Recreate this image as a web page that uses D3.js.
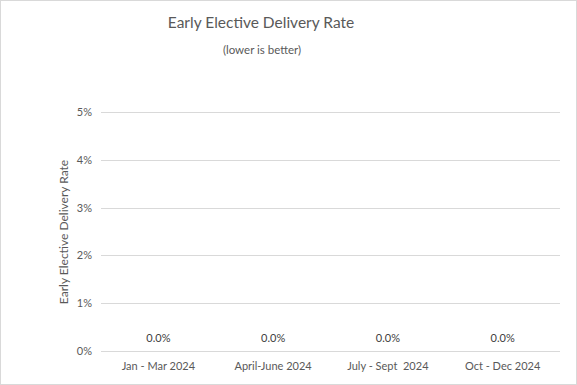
<!DOCTYPE html>
<html><head><meta charset="utf-8">
<script src="https://cdn.jsdelivr.net/npm/d3@7"></script>
<style>
html,body{margin:0;padding:0;background:#fff;}
svg{display:block;font-family:Lato,"Open Sans",sans-serif;}
</style></head>
<body>
<script>
const categories = ["Jan - Mar 2024", "April-June 2024", "July - Sept  2024", "Oct - Dec 2024"];
const values = [0, 0, 0, 0];
const yTicks = [0, 0.01, 0.02, 0.03, 0.04, 0.05];
const title = "Early Elective Delivery Rate";
const subtitle = "(lower is better)";
const yTitle = "Early Elective Delivery Rate";

const W = 577, H = 385;
const svg = d3.select("body").append("svg").attr("width", W).attr("height", H);
svg.append("rect").attr("x",0.5).attr("y",0.5).attr("width",W-1).attr("height",H-1)
  .attr("fill","#fff").attr("stroke","#d9d9d9");

const x = d3.scaleBand().domain(categories).range([101, 560]).paddingInner(0.55).paddingOuter(0.275);
const y = d3.scaleLinear().domain([0, 0.05]).range([351, 112]);

const grid = svg.append("g");
grid.selectAll("line").data(yTicks).join("line")
  .attr("x1",101).attr("x2",560)
  .attr("y1",d=>Math.round(y(d))+0.5).attr("y2",d=>Math.round(y(d))+0.5)
  .attr("stroke","#d9d9d9").attr("stroke-width",1);

const yAxis = svg.append("g").attr("transform","translate(101,0)")
  .call(d3.axisLeft(y).tickValues(yTicks).tickFormat(d3.format(".0%")).tickSize(0).tickPadding(9));
yAxis.select(".domain").remove();
yAxis.selectAll("text").attr("fill","#595959").style("font-size","11px").style("font-family","Lato, 'Open Sans', sans-serif");

const xAxis = svg.append("g").attr("transform","translate(0,351)")
  .call(d3.axisBottom(x).tickSize(0).tickPadding(9));
xAxis.select(".domain").remove();
xAxis.selectAll("text").attr("fill","#595959").style("font-size","11px").style("font-family","Lato, 'Open Sans', sans-serif").attr("dy","0.9em").style("white-space","pre");

svg.append("g").selectAll("rect").data(values).join("rect")
  .attr("x",(d,i)=>x(categories[i])).attr("width",x.bandwidth())
  .attr("y",d=>y(d)).attr("height",d=>y(0)-y(d)).attr("fill","#4472c4");

svg.append("g").selectAll("text").data(values).join("text")
  .attr("x",(d,i)=>x(categories[i])+x.bandwidth()/2)
  .attr("y",d=>y(d)-9)
  .attr("text-anchor","middle").attr("fill","#404040").style("font-size","11px")
  .text(d=>d3.format(".1%")(d));

svg.append("text").attr("x",261).attr("y",28).attr("text-anchor","middle")
  .attr("fill","#595959").style("font-size","15.5px").text(title);
svg.append("text").attr("x",262).attr("y",54).attr("text-anchor","middle")
  .attr("fill","#595959").style("font-size","11.5px").text(subtitle);
svg.append("text").attr("transform","translate(68,232) rotate(-90)").attr("text-anchor","middle")
  .attr("fill","#595959").style("font-size","12px").text(yTitle);
</script>
</body></html>
